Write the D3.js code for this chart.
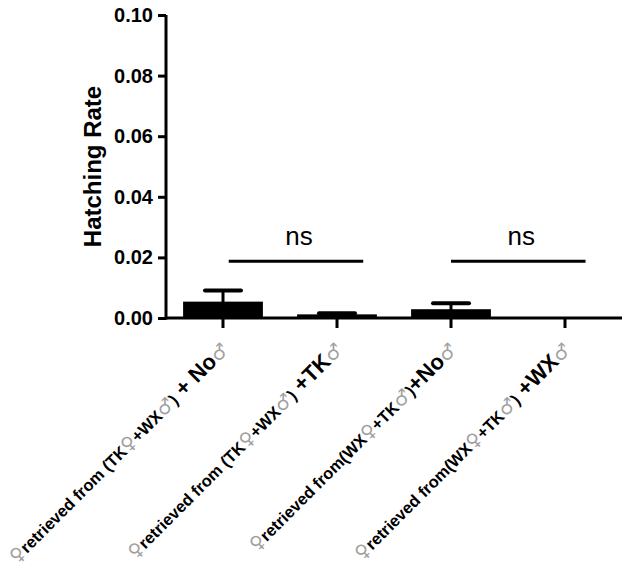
<!DOCTYPE html>
<html>
<head>
<meta charset="utf-8">
<script src="https://cdn.jsdelivr.net/npm/d3@7"></script>
<style>
  body { margin: 0; background: #fff; }
  svg { display: block; }
</style>
</head>
<body>
<svg id="chart" width="630" height="574"></svg>
<script>
// ---- data ----
const categories = [
  "♀retrieved from (TK♀+WX♂) + No♂",
  "♀retrieved from (TK♀+WX♂) +TK♂",
  "♀retrieved from(WX♀+TK♂)+No♂",
  "♀retrieved from(WX♀+TK♂) +WX♂"
];
const means  = [0.0054, 0.0012, 0.0029, 0.0];
const errors = [0.0037, 0.0004, 0.0020, 0.0];
const yTicks = [0.00, 0.02, 0.04, 0.06, 0.08, 0.10];
const yTitle = "Hatching Rate";
const sigFrom  = [0.05, 2.0];
const sigTo    = [1.23, 3.18];
const sigLevel = [0.0187, 0.0187];
const sigText  = ["ns", "ns"];

(function () {
// ---- layout ----
const svg = d3.select("#chart");
const mLeft = 166, mRight = 622, mTop = 15, mBottom = 318;
const FONT = "'Liberation Sans', Arial, Helvetica, sans-serif";

const x = d3.scaleBand().domain(categories).range([mLeft, mRight])
  .paddingInner(0.3).paddingOuter(0.15);
const y = d3.scaleLinear().domain([0, 0.1]).range([mBottom, mTop]);
const xi = d3.scaleLinear().domain([0, categories.length - 1])
  .range([x(categories[0]) + x.bandwidth() / 2, x(categories[categories.length - 1]) + x.bandwidth() / 2]);

// bars
svg.append("g").selectAll("rect").data(categories).join("rect")
  .attr("x", d => x(d))
  .attr("width", x.bandwidth())
  .attr("y", (d, i) => y(means[i]))
  .attr("height", (d, i) => y(0) - y(means[i]))
  .attr("fill", "#000");

// error bars
const eb = svg.append("g").attr("stroke", "#000").attr("stroke-linecap", "round");
categories.forEach((c, i) => {
  if (errors[i] <= 0) return;
  const cx = x(c) + x.bandwidth() / 2;
  eb.append("line").attr("x1", cx).attr("x2", cx)
    .attr("y1", y(means[i])).attr("y2", y(means[i] + errors[i])).attr("stroke-width", 3);
  eb.append("line").attr("x1", cx - 18).attr("x2", cx + 18)
    .attr("y1", y(means[i] + errors[i])).attr("y2", y(means[i] + errors[i])).attr("stroke-width", 4);
});

// y axis
const yAxis = svg.append("g").attr("transform", `translate(${mLeft},0)`)
  .call(d3.axisLeft(y).tickValues(yTicks).tickFormat(d3.format(".2f")).tickSize(8).tickPadding(5));
yAxis.select(".domain").attr("stroke-width", 3).attr("d", `M0,${mBottom + 1.5}V${mTop}`);
yAxis.selectAll(".tick line").attr("stroke-width", 3);
yAxis.selectAll(".tick text").attr("font-family", FONT).attr("font-weight", "bold")
  .attr("font-size", 20).attr("fill", "#000");

// x axis
const xAxis = svg.append("g").attr("transform", `translate(0,${mBottom})`)
  .call(d3.axisBottom(x).tickSize(10).tickFormat(""));
xAxis.select(".domain").attr("stroke-width", 3).attr("d", `M${mLeft},0H${mRight}`);
xAxis.selectAll(".tick line").attr("stroke-width", 3);

// x labels
function segments(label) {
  const lastParen = label.lastIndexOf(")");
  const segs = [];
  let buf = "", bufType = null;
  for (let k = 0; k < label.length; k++) {
    const ch = label[k];
    let type;
    if (ch === "♀" || ch === "♂") type = "sym";
    else if (k > lastParen) type = "big";
    else type = "txt";
    if (type !== bufType && buf) { segs.push({t: buf, type: bufType}); buf = ""; }
    buf += ch; bufType = type;
  }
  if (buf) segs.push({t: buf, type: bufType});
  return segs;
}
const lab = svg.append("g");
categories.forEach(c => {
  const cx = x(c) + x.bandwidth() / 2;
  const t = lab.append("text")
    .attr("transform", `translate(${cx + 7},${mBottom + 33}) rotate(-45)`)
    .attr("text-anchor", "end")
    .attr("font-family", FONT)
    .style("white-space", "pre");
  segments(c).forEach(s => {
    const ts = t.append("tspan").text(s.t);
    if (s.type === "sym") {
      ts.attr("font-family", "'DejaVu Sans', sans-serif").attr("font-size", 19).attr("fill", "#a0a0a0");
    } else if (s.type === "big") {
      ts.attr("font-weight", "bold").attr("font-size", 22).attr("fill", "#000");
    } else {
      ts.attr("font-weight", "bold").attr("font-size", 16.5).attr("fill", "#000");
    }
  });
});

// y title
svg.append("text")
  .attr("transform", `translate(101,${(mTop + mBottom) / 2}) rotate(-90)`)
  .attr("text-anchor", "middle")
  .attr("font-family", FONT).attr("font-weight", "bold").attr("font-size", 24)
  .text(yTitle);

// significance
const sg = svg.append("g");
sigText.forEach((s, i) => {
  sg.append("line").attr("x1", xi(sigFrom[i])).attr("x2", xi(sigTo[i]))
    .attr("y1", y(sigLevel[i])).attr("y2", y(sigLevel[i]))
    .attr("stroke", "#000").attr("stroke-width", 3);
  sg.append("text").attr("x", (xi(sigFrom[i]) + xi(sigTo[i])) / 2 + 3)
    .attr("y", y(sigLevel[i]) - 16)
    .attr("text-anchor", "middle")
    .attr("font-family", FONT).attr("font-size", 26).text(s);
});
})();
</script>
</body>
</html>
